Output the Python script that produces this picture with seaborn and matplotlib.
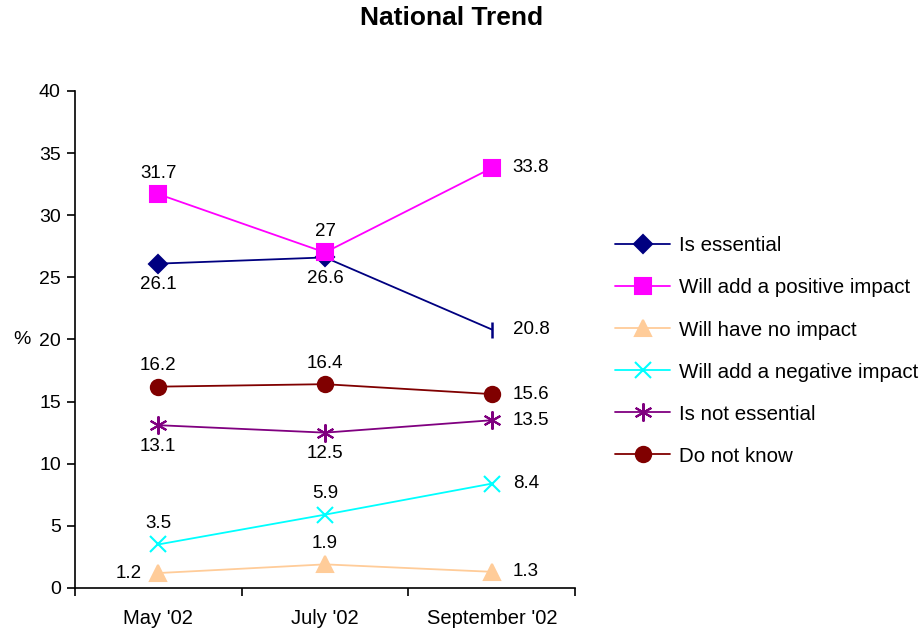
import numpy as np
import pandas as pd
import matplotlib.pyplot as plt
import seaborn as sns

sns.set_theme(style="white")
plt.rcParams['font.family'] = ['Liberation Sans', 'DejaVu Sans']
plt.rcParams['text.color'] = 'black'
plt.rcParams['xtick.color'] = 'black'
plt.rcParams['ytick.color'] = 'black'
plt.rcParams['axes.labelcolor'] = 'black'

months = ["May '02", "July '02", "September '02"]
is_essential = [26.1, 26.6, 20.8]
positive_impact = [31.7, 27, 33.8]
no_impact = [1.2, 1.9, 1.3]
negative_impact = [3.5, 5.9, 8.4]
not_essential = [13.1, 12.5, 13.5]
do_not_know = [16.2, 16.4, 15.6]

series = [
    ("Is essential", is_essential, "#000080", "D", 9, ["below", "below", "right"]),
    ("Will add a positive impact", positive_impact, "#FF00FF", "s", 11, ["above", "above", "right"]),
    ("Will have no impact", no_impact, "#FFCC99", "^", 11, ["left", "above", "right"]),
    ("Will add a negative impact", negative_impact, "#00FFFF", "x", 11, ["above", "above", "right"]),
    ("Is not essential", not_essential, "#800080", (6, 2, 0), 13, ["below", "below", "right"]),
    ("Do not know", do_not_know, "#800000", "o", 11, ["above", "above", "right"]),
]

fig = plt.figure(figsize=(9.22, 6.34), dpi=100)
ax = fig.add_axes([0.081, 0.0726, 0.543, 0.784])
xpos = np.arange(len(months))
lab_fs = 13.5

for name, vals, color, marker, ms, places in series:
    mevery = [0, 1] if name == "Is essential" else None
    sns.lineplot(x=xpos, y=vals, ax=ax, color=color, marker=marker, markersize=ms,
                 markeredgecolor=color, markerfacecolor=color, markeredgewidth=1.5,
                 linewidth=1.3, label=name, markevery=mevery)
    if name == "Is essential":
        ax.plot(xpos[2], vals[2], marker="|", color=color, markersize=12,
                markeredgewidth=1.8, linestyle="none")
    for xi, v, p in zip(xpos, vals, places):
        txt = f"{v:g}"
        if p == "above":
            ax.annotate(txt, (xi, v), xytext=(0, 9), textcoords="offset points",
                        ha="center", va="bottom", fontsize=lab_fs)
        elif p == "below":
            ax.annotate(txt, (xi, v), xytext=(0, -9), textcoords="offset points",
                        ha="center", va="top", fontsize=lab_fs)
        elif p == "left":
            ax.annotate(txt, (xi, v), xytext=(-12, 0), textcoords="offset points",
                        ha="right", va="center", fontsize=lab_fs)
        else:
            ax.annotate(txt, (xi, v), xytext=(15, 0), textcoords="offset points",
                        ha="left", va="center", fontsize=lab_fs)

ax.set_xlim(-0.5, 2.5)
ax.set_ylim(0, 40)
ax.set_yticks(np.arange(0, 41, 5))
ax.set_xticks(xpos)
ax.set_xticklabels(months, fontsize=14.5)
ax.set_xticks([-0.5, 0.5, 1.5, 2.5], minor=True)
ax.tick_params(axis="x", which="major", length=0, pad=15)
ax.tick_params(axis="x", which="minor", length=6, width=1.2, direction="out", color="black", bottom=True)
ax.tick_params(axis="y", length=6, width=1.2, direction="out", color="black", left=True, labelsize=14, pad=4)
for s in ["top", "right"]:
    ax.spines[s].set_visible(False)
for s in ["left", "bottom"]:
    ax.spines[s].set_color("black")
    ax.spines[s].set_linewidth(1.2)
ax.set_xlabel("")
ax.set_ylabel("%", rotation=0, fontsize=14, labelpad=12, va="center")

handles, labels = ax.get_legend_handles_labels()
ax.get_legend().remove()
fig.legend(handles, labels, loc="upper left", bbox_to_anchor=(0.658, 0.64),
           frameon=False, fontsize=14.8, handlelength=2.7, labelspacing=1.12,
           handletextpad=0.4, borderaxespad=0)

fig.suptitle("National Trend", fontsize=19, fontweight="bold", x=0.49, y=0.99)
fig.savefig("out.png", dpi=100)
